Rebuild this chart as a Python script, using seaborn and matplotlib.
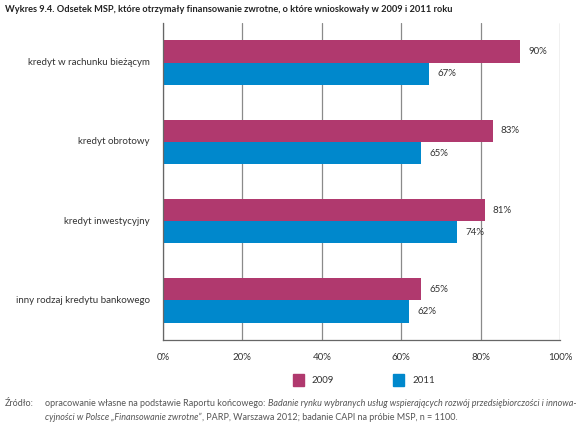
import matplotlib
matplotlib.use("Agg")
import matplotlib.pyplot as plt
import seaborn as sns
import pandas as pd
from matplotlib.patches import Rectangle

categories = [
    "kredyt w rachunku bieżącym",
    "kredyt obrotowy",
    "kredyt inwestycyjny",
    "inny rodzaj kredytu bankowego",
]
years = ["2009", "2011"]
values_2009 = [90, 83, 81, 65]
values_2011 = [67, 65, 74, 62]
colors = ["#B0396E", "#0088CC"]

df = pd.DataFrame({
    "kategoria": categories * 2,
    "rok": ["2009"] * 4 + ["2011"] * 4,
    "wartosc": values_2009 + values_2011,
})

sns.set_style("white")
plt.rcParams["font.family"] = ["Lato", "DejaVu Sans"]
txt_col = "#333333"

fig = plt.figure(figsize=(5.85, 4.23), dpi=100)
ax = fig.add_axes([0.2786, 0.196, 0.9573 - 0.2786, 0.9456 - 0.196])

sns.barplot(data=df, y="kategoria", x="wartosc", hue="rok", order=categories,
            hue_order=years, palette=colors, width=0.56, orient="h",
            saturation=1, linewidth=0, ax=ax, legend=False)

ax.set_xlim(0, 100)
ax.set_ylim(3.5, -0.5)
ticks = [0, 20, 40, 60, 80, 100]
ax.set_xticks(ticks)
ax.set_xticklabels([f"{t}%" for t in ticks], fontsize=7, color=txt_col)
ax.xaxis.grid(True, color="#8a8a8a", linewidth=0.9)
ax.set_axisbelow(True)
ax.set_xlabel("")
ax.set_ylabel("")

# separators between categories as y ticks, labels placed separately
ax.set_yticks([-0.5, 0.5, 1.5, 2.5])
ax.set_yticklabels([])
ax.tick_params(axis="y", length=6.5, width=0.9, color="#666666", direction="out")
ax.tick_params(axis="x", length=6, width=0.9, color="#666666", direction="out", pad=3)
for i, c in enumerate(categories):
    ax.text(-0.033, i, c, transform=ax.get_yaxis_transform(), ha="right",
            va="center", fontsize=7, color=txt_col)

for side in ["top", "right"]:
    ax.spines[side].set_visible(False)
for side in ["left", "bottom"]:
    ax.spines[side].set_color("#666666")
    ax.spines[side].set_linewidth(0.9)

for cont in ax.containers:
    ax.bar_label(cont, labels=[f"{v:.0f}%" for v in cont.datavalues],
                 padding=6, fontsize=7, color=txt_col)

# legend
W, H = 585, 423
for x_sq, x_txt, lab, col in [(293, 312, "2009", colors[0]), (393, 412, "2011", colors[1])]:
    fig.patches.append(Rectangle((x_sq / W, 1 - 386 / H), 11 / W, 12 / H,
                                 transform=fig.transFigure, color=col))
    fig.text(x_txt / W, 1 - 380 / H, lab, fontsize=7, va="center", color=txt_col)

fig.text(5 / W, 1 - 10 / H,
         "Wykres 9.4. Odsetek MSP, które otrzymały finansowanie zwrotne, o które wnioskowały w 2009 i 2011 roku",
         fontsize=6.7, fontweight="bold", va="center", color="#222222")

# source note, mixed upright and italic pieces placed one after another
src_size = 6.45
src_col = "#555555"
fig.text(5 / W, 1 - 403 / H, "Źródło:", fontsize=src_size, va="center", color=src_col)
fig.canvas.draw()
renderer = fig.canvas.get_renderer()
x = 45 / W
for piece, st in [("opracowanie własne na podstawie Raportu końcowego: ", "normal"),
                  ("Badanie rynku wybranych usług wspierających rozwój przedsiębiorczości i innowa-", "italic")]:
    t = fig.text(x, 1 - 403 / H, piece, fontsize=src_size, style=st, va="center", color=src_col)
    x += t.get_window_extent(renderer).width / W
x = 45 / W
for piece, st in [("cyjności w Polsce „Finansowanie zwrotne”", "italic"),
                  (", PARP, Warszawa 2012; badanie CAPI na próbie MSP, n = 1100.", "normal")]:
    t = fig.text(x, 1 - 417 / H, piece, fontsize=src_size, style=st, va="center", color=src_col)
    x += t.get_window_extent(renderer).width / W

fig.savefig("out.png", dpi=100)
